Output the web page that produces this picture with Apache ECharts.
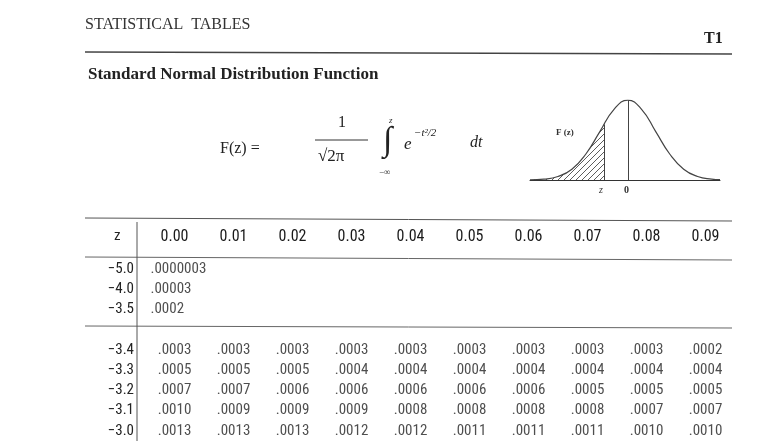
<!DOCTYPE html>
<html><head><meta charset="utf-8">
<script src="https://cdn.jsdelivr.net/npm/echarts@6/dist/echarts.min.js"></script>
<style>html,body{margin:0;padding:0;background:#fff}#c{width:784px;height:441px}</style>
</head><body><div id="c"></div>
<script>
const columns = ['0.00','0.01','0.02','0.03','0.04','0.05','0.06','0.07','0.08','0.09'];
const rowLabels = ['\u22125.0','\u22124.0','\u22123.5','','\u22123.4','\u22123.3','\u22123.2','\u22123.1','\u22123.0'];
const row50 = ['.0000003'];
const row40 = ['.00003'];
const row35 = ['.0002'];
const row34 = ['.0003','.0003','.0003','.0003','.0003','.0003','.0003','.0003','.0003','.0002'];
const row33 = ['.0005','.0005','.0005','.0004','.0004','.0004','.0004','.0004','.0004','.0004'];
const row32 = ['.0007','.0007','.0006','.0006','.0006','.0006','.0006','.0005','.0005','.0005'];
const row31 = ['.0010','.0009','.0009','.0009','.0008','.0008','.0008','.0008','.0007','.0007'];
const row30 = ['.0013','.0013','.0013','.0012','.0012','.0011','.0011','.0011','.0010','.0010'];
const curveX = [-3.5,-3,-2.5,-2,-1.5,-1,-0.5,0,0.5,1,1.5,2,2.5,3,3.3];
const curveY = [0.001,0.0044,0.0175,0.054,0.13,0.242,0.352,0.399,0.352,0.242,0.13,0.054,0.0175,0.0044,0.0017];
const zMark = -0.85;
const hatchX = [-3.5,-3,-2.5,-2,-1.5,-1,-0.85];
const hatchY = [0.001,0.0044,0.0175,0.054,0.13,0.242,0.278];

const rows = [row50,row40,row35,null,row34,row33,row32,row31,row30];
const cells = [];
rows.forEach((r,ri)=>{ if(r) r.forEach((v,ci)=>cells.push({value:[ci,ri],label:{formatter:v, align: r.length===1?'left':'center', offset: r.length===1?[-24,0]:[0,0]}})); });

const pc = document.createElement('canvas'); pc.width=6; pc.height=6;
const g = pc.getContext('2d'); g.strokeStyle='#333'; g.lineWidth=0.8;
g.beginPath(); g.moveTo(0,6); g.lineTo(6,0); g.stroke();

const narrow = '"Liberation Sans Narrow","Roboto Condensed","Liberation Sans",Arial,sans-serif';
const serif = '"Liberation Serif","DejaVu Serif",serif';
const chart = echarts.init(document.getElementById('c'));
chart.setOption({
  backgroundColor:'#fff',
  animation:false,
  grid:[{left:145,width:590,top:259,height:193},{left:530,width:190,top:100,height:80}],
  xAxis:[
    {type:'category',data:columns,position:'top',gridIndex:0,axisLine:{show:false},axisTick:{show:false},
     axisLabel:{margin:14,fontFamily:narrow,fontSize:16,color:'#1a1a1a'}},
    {type:'value',gridIndex:1,min:-3.5,max:3.3,show:true,axisLabel:{show:false},axisTick:{show:false},splitLine:{show:false},
     axisLine:{lineStyle:{color:'#333',width:1}}}
  ],
  yAxis:[
    {type:'category',data:rowLabels,inverse:true,gridIndex:0,axisLine:{show:false},axisTick:{show:false},
     axisLabel:{margin:11,fontFamily:narrow,fontSize:15,color:'#222'}},
    {type:'value',gridIndex:1,min:0,max:0.4,show:false}
  ],
  series:[
    {type:'scatter',xAxisIndex:0,yAxisIndex:0,symbolSize:0,data:cells,
     label:{show:true,position:'inside',fontFamily:narrow,fontSize:15,color:'#222'}},
    {type:'line',xAxisIndex:1,yAxisIndex:1,data:curveX.map((x,i)=>[x,curveY[i]]),smooth:true,symbol:'none',
     lineStyle:{color:'#444',width:1.2},
     markLine:{silent:true,symbol:'none',label:{show:false},lineStyle:{color:'#444',width:1,type:'solid'},
       data:[[{coord:[0,0]},{coord:[0,0.399]}],[{coord:[zMark,0]},{coord:[zMark,0.278]}]]}},
    {type:'line',xAxisIndex:1,yAxisIndex:1,data:hatchX.map((x,i)=>[x,hatchY[i]]),smooth:true,symbol:'none',
     lineStyle:{width:0},areaStyle:{color:{image:pc,repeat:'repeat'},opacity:1}}
  ],
  graphic:[
    {type:'text',left:85,top:17,style:{text:'STATISTICAL  TABLES',font:'16px '+serif,fill:'#333'}},
    {type:'text',left:704,top:31,style:{text:'T1',font:'bold 16px '+serif,fill:'#222'}},
    {type:'line',shape:{x1:85,y1:52,x2:732,y2:54},style:{stroke:'#444',lineWidth:1.5}},
    {type:'text',left:88,top:66,style:{text:'Standard Normal Distribution Function',font:'bold 17px '+serif,fill:'#222'}},
    {type:'text',left:220,top:141,style:{text:'F(z) =',font:'16px '+serif,fill:'#222'}},
    {type:'text',left:338,top:115,style:{text:'1',font:'16px '+serif,fill:'#222'}},
    {type:'line',shape:{x1:315,y1:140,x2:368,y2:140},style:{stroke:'#333',lineWidth:1}},
    {type:'text',left:318,top:148,style:{text:'\u221A2\u03C0',font:'17px '+serif,fill:'#222'}},
    {type:'text',left:389,top:116,style:{text:'z',font:'italic 9px '+serif,fill:'#333'}},
    {type:'text',left:383,top:124,style:{text:'\u222B',font:'34px '+serif,fill:'#222'}},
    {type:'text',left:379,top:168,style:{text:'\u2212\u221E',font:'9px '+serif,fill:'#333'}},
    {type:'text',left:404,top:136,style:{text:'e',font:'italic 17px '+serif,fill:'#222'}},
    {type:'text',left:414,top:128,style:{text:'\u2212t\u00B2/2',font:'italic 11px '+serif,fill:'#222'}},
    {type:'text',left:470,top:135,style:{text:'dt',font:'italic 16px '+serif,fill:'#222'}},
    {type:'text',left:556,top:128,style:{text:'F (z)',font:'bold 9px '+serif,fill:'#333'}},
    {type:'text',left:599,top:185,style:{text:'z',font:'italic 10px '+serif,fill:'#333'}},
    {type:'text',left:624,top:185,style:{text:'0',font:'bold 10px '+serif,fill:'#333'}},
    {type:'text',left:114,top:229,style:{text:'z',font:'15px '+narrow,fill:'#222'}},
    {type:'line',shape:{x1:85,y1:218,x2:732,y2:221},style:{stroke:'#555',lineWidth:1}},
    {type:'line',shape:{x1:85,y1:257,x2:732,y2:260},style:{stroke:'#666',lineWidth:1}},
    {type:'line',shape:{x1:85,y1:326,x2:732,y2:328},style:{stroke:'#666',lineWidth:1}},
    {type:'line',shape:{x1:137,y1:222,x2:137,y2:441},style:{stroke:'#555',lineWidth:1}}
  ]
});
</script></body></html>
